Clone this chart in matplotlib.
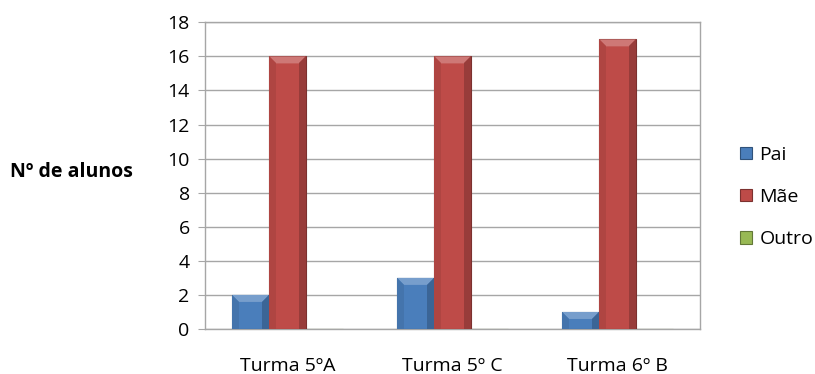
import matplotlib
matplotlib.use('Agg')
import matplotlib.pyplot as plt
from matplotlib.patches import Polygon
import numpy as np

plt.rcParams['font.family'] = ['Open Sans', 'DejaVu Sans']

turmas = ['Turma 5ºA', 'Turma 5º C', 'Turma 6º B']
pai = [2, 3, 1]
mae = [16, 16, 17]
outro = [0, 0, 0]

series = [('Pai', pai, '#4a7ebb'), ('Mãe', mae, '#be4b48'), ('Outro', outro, '#98b954')]


def shade(c, f):
    c = np.array(matplotlib.colors.to_rgb(c))
    if f > 0:
        return tuple(c + (1 - c) * f)
    return tuple(c * (1 + f))


fig = plt.figure(figsize=(8.15, 3.74), dpi=100)
ax = fig.add_axes([0.2515, 0.1203, 0.6074, 0.8200])

x = np.arange(len(turmas))
w = 0.224
bev_px = 7.0

ax.set_xlim(-0.5, len(turmas) - 0.5)
ax.set_ylim(0, 18)

# pixel -> data conversion for the bevel
px_x = (len(turmas)) / (0.6074 * 815)
px_y = 18 / (0.82 * 374)

for i, (name, vals, col) in enumerate(series):
    pos = x + (i - 1) * w
    bars = ax.bar(pos, vals, w, color=col, edgecolor=shade(col, -0.35),
                  linewidth=0.8, zorder=3, label=name)
    for b in bars:
        h = b.get_height()
        if h <= 0:
            continue
        x0, x1 = b.get_x(), b.get_x() + b.get_width()
        bx = bev_px * px_x
        by = min(bev_px * px_y, h / 2)
        # top bevel (light), side bevels (dark)
        ax.add_patch(Polygon([(x0, h), (x1, h), (x1 - bx, h - by), (x0 + bx, h - by)],
                             closed=True, color=shade(col, 0.25), lw=0, zorder=4))
        ax.add_patch(Polygon([(x1, h), (x1, 0), (x1 - bx, 0), (x1 - bx, h - by)],
                             closed=True, color=shade(col, -0.2), lw=0, zorder=4))
        ax.add_patch(Polygon([(x0, h), (x0, 0), (x0 + bx, 0), (x0 + bx, h - by)],
                             closed=True, color=shade(col, -0.08), lw=0, zorder=4))

ax.set_yticks(np.arange(0, 19, 2))
ax.yaxis.grid(True, color='#a6a6a6', linewidth=1.0, zorder=0)
ax.set_axisbelow(True)
for s in ['left', 'bottom', 'top', 'right']:
    ax.spines[s].set_color('#a6a6a6')
    ax.spines[s].set_linewidth(1.0)
ax.tick_params(axis='y', length=5, color='#a6a6a6', labelsize=14, pad=6)
ax.tick_params(axis='x', length=0, labelsize=14, pad=20)
ax.set_xticks(x)
ax.set_xticklabels(turmas)

fig.text(0.012, 0.54, 'Nº de alunos', fontsize=14, fontweight='bold', va='center', ha='left')

ax.legend(loc='center left', bbox_to_anchor=(1.065, 0.43), frameon=False, fontsize=14,
          handlelength=0.6, handleheight=0.6, handletextpad=0.4, labelspacing=1.25,
          borderaxespad=0)

fig.savefig('out.png', dpi=100)
